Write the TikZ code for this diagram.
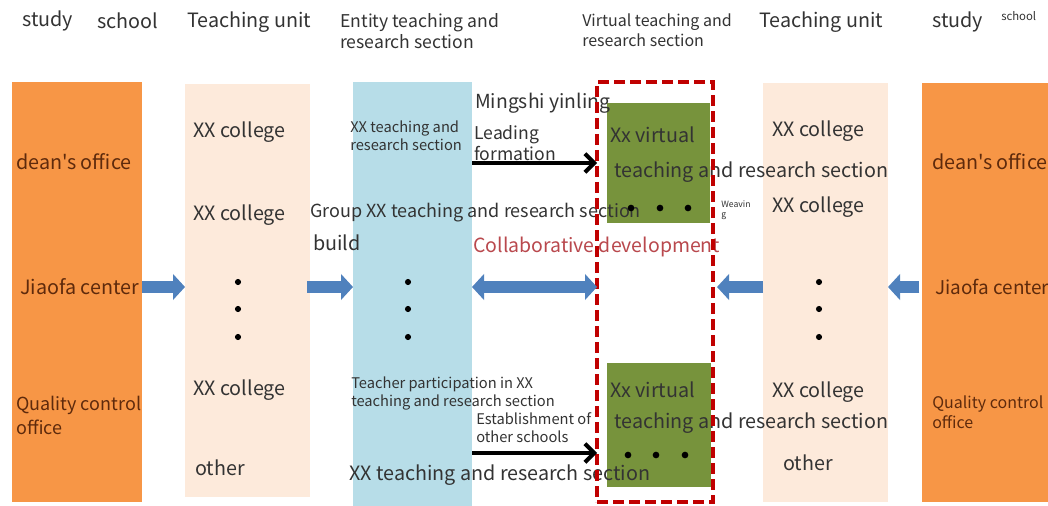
\documentclass[tikz,border=0pt]{standalone}
\usepackage{fontspec}
\setmainfont{Noto Sans CJK SC}[Ligatures=TeXOff]
\usetikzlibrary{arrows.meta,fit,positioning}
\definecolor{deanorange}{HTML}{F79646}
\definecolor{unitpeach}{HTML}{FDEADB}
\definecolor{secblue}{HTML}{B7DDE8}
\definecolor{virtgreen}{HTML}{77933C}
\definecolor{dashred}{HTML}{C00000}
\definecolor{flowblue}{HTML}{4F81BD}
\definecolor{officebrown}{HTML}{5E2A0C}
\definecolor{collabred}{HTML}{B9484D}
\definecolor{inkgray}{HTML}{333333}
\tikzset{
  col/.style={inner sep=0pt, outer sep=0pt},
  lbl/.style={anchor=west, inner sep=0pt, text=inkgray, align=left},
  big/.style={font=\fontsize{14.8}{18}\selectfont},
  mid/.style={font=\fontsize{13.2}{15.75}\selectfont},
  small/.style={font=\fontsize{11}{13.5}\selectfont},
  office/.style={lbl, text=officebrown},
  flow/.style={draw=flowblue, line width=9pt,
    -{Triangle[width=19pt,length=9pt]}},
  lead/.style={draw=black, line width=3pt,
    -{Straight Barb[length=7pt,width=14pt,line width=3pt]}}
}
\begin{document}
\begin{tikzpicture}[x=0.75pt,y=-0.75pt]
\useasboundingbox[fill=white] (0,0) rectangle (1048,506);
% columns
\node[col, fill=deanorange, fit={(12,82) (142,502)}] (orangeL) {};
\node[col, fill=unitpeach, fit={(185,84) (310,497)}] (peachL) {};
\node[col, fill=secblue, fit={(353,82) (472,506)}] (blueC) {};
\node[col, fill=virtgreen, fit={(607,103) (710,223)}] (greenT) {};
\node[col, fill=virtgreen, fit={(607,363) (711,487)}] (greenB) {};
\node[col, fill=unitpeach, fit={(763,83) (888,502)}] (peachR) {};
\node[col, fill=deanorange, fit={(922,83) (1048,502)}] (orangeR) {};
% headers
\node[lbl, big] (studyL) at (22,21) {study};
\node[lbl, big] (schoolL) at (97,21) {school};
\node[lbl, big] (unitL) at (187,22) {Teaching unit};
\node[lbl, mid] (entityH) at (340,31) {Entity teaching and\\research section};
\node[lbl, mid, font=\fontsize{12}{15}\selectfont] (virtH) at (582,30) {Virtual teaching and\\research section};
\node[lbl, big] (unitR) at (759,22) {Teaching unit};
\node[lbl, big] (studyR) at (932,22) {study};
\node[lbl, font=\fontsize{8.5}{9}\selectfont] (schoolR) at (1001,16) {school};
% school offices
\node[office, big] (deanL) at (16,162) {dean's office};
\node[office, big] (jiaofaL) at (20,287) {Jiaofa center};
\node[office, font=\fontsize{13.5}{18}\selectfont] (qualityL) at (16,415) {Quality control\\office};
\node[office, big] (deanR) at (932,162) {dean's office};
\node[office, big, font=\fontsize{14.2}{18}\selectfont] (jiaofaR) at (935,287) {Jiaofa center};
\node[office, font=\fontsize{12}{15}\selectfont] (qualityR) at (932,412) {Quality control\\office};
% teaching units
\node[lbl, big] (collegeLa) at (193,132) {XX college};
\node[lbl, big] (collegeLb) at (193,215) {XX college};
\node[lbl, big] (collegeLc) at (193,390) {XX college};
\node[lbl, big] (otherL) at (195,468) {other};
\node[lbl, big] (collegeRa) at (772,131) {XX college};
\node[lbl, big] (collegeRb) at (772,207) {XX college};
\node[lbl, big] (collegeRc) at (772,392) {XX college};
\node[lbl, big] (otherR) at (783,463) {other};
\foreach \x in {238,408,819}
  \foreach \y in {282,309,337}
    \fill (\x,\y) circle (2.3pt);
% entity sections
\node[lbl, small] (sectionA) at (350,136) {XX teaching and\\research section};
\node[lbl, big, font=\fontsize{13.5}{18}\selectfont] (groupSec) at (310,213) {Group XX teaching and research section};
\node[lbl, big] (build) at (313,243) {build};
\node[lbl, small] (teacherSec) at (351,393) {Teacher participation in XX\\teaching and research section};
\node[lbl, big] (sectionB) at (349,475) {XX teaching and research section};
\node[lbl, big, font=\fontsize{14.5}{18}\selectfont] (mingshi) at (475,103) {Mingshi yinling};
\node[lbl, mid] (leading) at (474,143) {Leading\\formation};
\node[lbl, small] (estab) at (476,428) {Establishment of\\other schools};
\node[lbl, big, text=collabred, font=\fontsize{14.6}{18}\selectfont] (collab) at (473,247) {Collaborative development};
% virtual sections
\node[lbl, big] (virtTa) at (610,135) {Xx virtual};
\node[lbl, big] (virtTb) at (614,172) {teaching and research section};
\node[lbl, big] (virtBa) at (610,390) {Xx virtual};
\node[lbl, big] (virtBb) at (614,423) {teaching and research section};
\foreach \x in {631,660,688} \fill (\x,208) circle (2.5pt);
\foreach \x in {628,656,685} \fill (\x,455) circle (2.5pt);
\node[lbl, font=\fontsize{6.5}{7.5}\selectfont] (weaving) at (721,210) {Weavin\\g};
% dashed virtual frame
\node[col, draw=dashred, line width=3pt, dash pattern=on 8pt off 4pt,
      fit={(597,82) (713,502)}] (virtBox) {};
% arrows
\coordinate (estabRow) at (0,453);
\draw[flow] (orangeL.east |- jiaofaL) -- (peachL.west |- jiaofaL);
\draw[flow] ([xshift=-2pt]peachL.east |- jiaofaL) -- (blueC.west |- jiaofaL);
\draw[flow, {Triangle[width=19pt,length=9pt]}-{Triangle[width=19pt,length=9pt]}]
  (blueC.east |- jiaofaL) -- (virtBox.west |- jiaofaL);
\draw[flow] (peachR.west |- jiaofaR) -- ([xshift=3pt]virtBox.east |- jiaofaR);
\draw[flow] ([xshift=-2pt]orangeR.west |- jiaofaR) -- (peachR.east |- jiaofaR);
\draw[lead] (blueC.east |- greenT) -- (virtBox.west |- greenT);
\draw[lead] (blueC.east |- estabRow) -- (virtBox.west |- estabRow);
\end{tikzpicture}
\end{document}
